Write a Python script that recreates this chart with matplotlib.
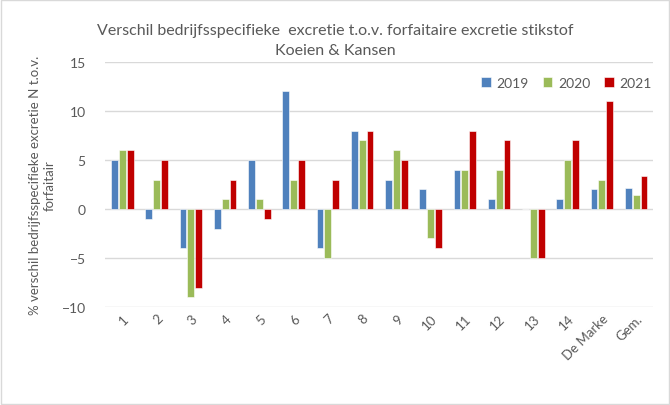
import numpy as np
import matplotlib.pyplot as plt

plt.rcParams['font.family'] = ['Lato', 'DejaVu Sans']

categories = ['1', '2', '3', '4', '5', '6', '7', '8', '9', '10', '11', '12', '13', '14', 'De Marke', 'Gem.']
v2019 = [5, -1, -4, -2, 5, 12, -4, 8, 3, 2, 4, 1, 0, 1, 2, 2.14]
v2020 = [6, 3, -9, 1, 1, 3, -5, 7, 6, -3, 4, 4, -5, 5, 3, 1.46]
v2021 = [6, 5, -8, 3, -1, 5, 3, 8, 5, -4, 8, 7, -5, 7, 11, 3.37]
series = ['2019', '2020', '2021']
colors = ['#4F81BD', '#9BBB59', '#C00000']

grey = '#595959'
fig = plt.figure(figsize=(6.7, 4.06), dpi=100)
ax = fig.add_axes([0.157, 0.241, 0.818, 0.604])

x = np.arange(len(categories))
w = 0.2
for i, (vals, lab, c) in enumerate(zip([v2019, v2020, v2021], series, colors)):
    ax.bar(x + (i - 1) * 0.23, vals, width=w, color=c, label=lab,
           edgecolor='white', linewidth=0.4, zorder=3)

ax.set_xlim(-0.5, len(categories) - 0.5)
ax.set_ylim(-10, 15)
ax.set_yticks([-10, -5, 0, 5, 10, 15])
ax.yaxis.grid(True, color='#D9D9D9', linewidth=1, zorder=0)
for s in ax.spines.values():
    s.set_visible(False)
ax.tick_params(axis='both', length=0, colors=grey, labelsize=10)
ax.tick_params(axis='y', pad=14)
ax.tick_params(axis='x', labelsize=9.5)
ax.set_xticks(x)
ax.set_xticklabels(categories, rotation=45, ha='right', rotation_mode='anchor')

ax.set_ylabel('% verschil bedrijfsspecifieke excretie N t.o.v.\nforfaitair',
              color=grey, fontsize=9.5, linespacing=1.3)

fig.suptitle('Verschil bedrijfsspecifieke  excretie t.o.v. forfaitaire excretie stikstof\nKoeien & Kansen',
             color=grey, fontsize=11.5, y=0.94, linespacing=1.5)

ax.legend(loc='upper right', ncol=3, frameon=False, fontsize=10,
          handlelength=0.7, handleheight=0.7, columnspacing=1.0,
          handletextpad=0.4, bbox_to_anchor=(1.02, 0.99), labelcolor=grey)

fig.patches.append(plt.Rectangle((0.002, 0.003), 0.996, 0.994, transform=fig.transFigure,
                                 fill=False, edgecolor='#D9D9D9', linewidth=1))

fig.savefig('out.png', dpi=100)
